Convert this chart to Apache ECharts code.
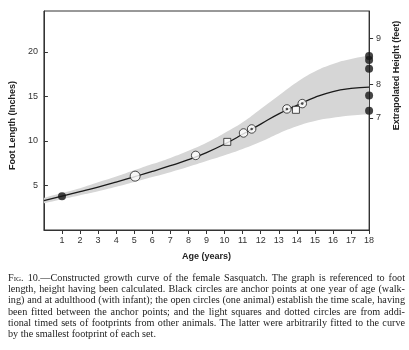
<!DOCTYPE html>
<html>
<head>
<meta charset="utf-8">
<script src="https://cdn.jsdelivr.net/npm/echarts@6/dist/echarts.min.js"></script>
<style>
  html, body { margin: 0; padding: 0; background: #fff; }
  #chart { position: absolute; left: 0; top: 0; width: 409px; height: 350px; }
  #caption { position: absolute; left: 8px; top: 272px; width: 397px;
    font-family: "Liberation Serif", "DejaVu Serif", serif; font-size: 10.2px;
    line-height: 11.2px; color: #222; }
  #caption div { text-align: justify; text-align-last: justify; white-space: nowrap; overflow: hidden; }
  #caption div.last { text-align-last: left; }
  .sc { font-variant: small-caps; }
</style>
</head>
<body>
<div id="chart"></div>
<div id="caption">
  <div><span class="sc">Fig</span>. 10.—Constructed growth curve of the female Sasquatch. The graph is referenced to foot</div>
  <div>length, height having been calculated. Black circles are anchor points at one year of age (walk-</div>
  <div>ing) and at adulthood (with infant); the open circles (one animal) establish the time scale, having</div>
  <div>been fitted between the anchor points; and the light squares and dotted circles are from addi-</div>
  <div>tional timed sets of footprints from other animals. The latter were arbitrarily fitted to the curve</div>
  <div class="last">by the smallest footprint of each set.</div>
</div>
<script>
// ---- data ----
var ages       = [0, 1, 2, 3, 4, 5, 6, 7, 8, 9, 10, 11, 12, 13, 14, 15, 16, 17, 18];
var curve      = [3.3, 3.8, 4.3, 4.82, 5.38, 5.97, 6.58, 7.22, 7.9, 8.7, 9.65, 10.75, 11.9, 13.05, 14.0, 14.9, 15.55, 15.9, 16.05];
var bandLower  = [3.0, 3.45, 3.9, 4.35, 4.85, 5.4, 5.95, 6.5, 7.1, 7.75, 8.4, 9.1, 9.9, 10.85, 11.65, 12.25, 12.6, 12.85, 13.0];
var bandUpper  = [3.6, 4.15, 4.7, 5.35, 6.0, 6.7, 7.4, 8.1, 8.9, 9.8, 10.9, 12.1, 13.6, 15.1, 16.6, 17.8, 18.65, 19.2, 19.6];

var anchorAges = [1, 18, 18, 18, 18, 18];
var anchorVals = [3.8, 19.55, 19.1, 18.1, 15.1, 13.4];
var openAges   = [5.05, 8.4, 11.05];
var openVals   = [6.05, 8.38, 10.9];
var squareAges = [10.15, 13.95];
var squareVals = [9.9, 13.5];
var dottedAges = [11.5, 13.45, 14.3];
var dottedVals = [11.35, 13.6, 14.2];

var ageTicks         = [1, 2, 3, 4, 5, 6, 7, 8, 9, 10, 11, 12, 13, 14, 15, 16, 17, 18];
var footTicks        = [5, 10, 15, 20];
var heightTickLabels = ['7', '8', '9'];
var heightTickAtFoot = [12.6, 16.35, 21.5];

var xName = 'Age (years)';
var yName = 'Foot Length (Inches)';
var y2Name = 'Extrapolated Height (feet)';

// ---- helpers ----
function pairs(xs, ys) { return xs.map(function (x, i) { return [x, ys[i]]; }); }
// value first, age second: lets the band stack along the value (y) dimension
function valAge(xs, ys) { return xs.map(function (x, i) { return [ys[i], x]; }); }

var FONT = '"Liberation Sans", Arial, sans-serif';
var AX = '#333';
var SMOOTH = 0.5;

var chart = echarts.init(document.getElementById('chart'), null, { renderer: 'canvas' });
chart.setOption({
  backgroundColor: '#fff',
  animation: false,
  grid: { left: 41, right: 38, top: 11, bottom: 120, show: true, borderColor: AX, borderWidth: 1, backgroundColor: 'transparent' },
  xAxis: {
    type: 'value', min: 0, max: 18,
    name: xName, nameLocation: 'middle', nameGap: 22,
    nameTextStyle: { fontFamily: FONT, fontWeight: 'bold', fontSize: 9, color: '#222' },
    axisLine: { show: true, lineStyle: { color: AX, width: 1 } },
    axisTick: { show: true, length: 4, customValues: ageTicks, lineStyle: { color: AX } },
    axisLabel: { customValues: ageTicks, margin: 6, fontFamily: FONT, fontSize: 9, color: '#333' },
    splitLine: { show: false }
  },
  yAxis: [{
    type: 'value', min: 0, max: 24.6, position: 'left',
    name: yName, nameLocation: 'middle', nameGap: 19,
    nameTextStyle: { fontFamily: FONT, fontWeight: 'bold', fontSize: 9, color: '#222', padding: [0, 10, 0, 0] },
    axisLine: { show: true, lineStyle: { color: AX, width: 1 } },
    axisTick: { show: true, inside: true, length: 4, customValues: footTicks, lineStyle: { color: AX } },
    axisLabel: { customValues: footTicks, margin: 6, fontFamily: FONT, fontSize: 9, color: '#333' },
    splitLine: { show: false }
  }, {
    type: 'value', min: 0, max: 24.6, position: 'right',
    name: y2Name, nameLocation: 'middle', nameGap: 17, nameRotate: 90,
    nameTextStyle: { fontFamily: FONT, fontWeight: 'bold', fontSize: 9, color: '#222', padding: [0, 0, 0, 90] },
    axisLine: { show: true, lineStyle: { color: AX, width: 1 } },
    axisTick: { show: true, length: 4, customValues: heightTickAtFoot, lineStyle: { color: AX } },
    axisLabel: {
      customValues: heightTickAtFoot, margin: 7, fontFamily: FONT, fontSize: 9, color: '#333',
      formatter: function (v) {
        var i = heightTickAtFoot.indexOf(v);
        return i >= 0 ? heightTickLabels[i] : '';
      }
    },
    splitLine: { show: false }
  }],
  series: [
    {
      type: 'line', name: 'bandLower', stack: 'band', data: valAge(ages, bandLower),
      encode: { x: 1, y: 0 },
      smooth: SMOOTH, symbol: 'none', silent: true,
      lineStyle: { opacity: 0 }, z: 1
    },
    {
      type: 'line', name: 'bandWidth', stack: 'band',
      data: valAge(ages, bandUpper.map(function (u, i) { return u - bandLower[i]; })),
      encode: { x: 1, y: 0 },
      smooth: SMOOTH, symbol: 'none', silent: true,
      lineStyle: { opacity: 0 }, areaStyle: { color: '#d6d6d6', opacity: 1 }, z: 1
    },
    {
      type: 'line', name: 'curve', data: pairs(ages, curve),
      smooth: SMOOTH, symbol: 'none',
      lineStyle: { color: '#1a1a1a', width: 1.3 }, z: 2
    },
    {
      type: 'scatter', name: 'squares', data: pairs(squareAges, squareVals), clip: false,
      symbol: 'rect', symbolSize: 7,
      itemStyle: { color: '#fff', borderColor: '#222', borderWidth: 1 }, z: 3
    },
    {
      type: 'scatter', name: 'open', data: pairs(openAges, openVals), clip: false,
      symbol: 'circle', symbolSize: function (v, p) { return p.dataIndex === 0 ? 10 : 8.5; },
      itemStyle: { color: '#fff', borderColor: '#222', borderWidth: 1 }, z: 3
    },
    {
      type: 'scatter', name: 'dotted', data: pairs(dottedAges, dottedVals), clip: false,
      symbol: 'circle', symbolSize: 8.5,
      itemStyle: { color: '#fff', borderColor: '#222', borderWidth: 1 }, z: 3
    },
    {
      type: 'scatter', name: 'dottedCentre', data: pairs(dottedAges, dottedVals), clip: false,
      symbol: 'circle', symbolSize: 2.6,
      itemStyle: { color: '#222' }, z: 4
    },
    {
      type: 'scatter', name: 'anchors', data: pairs(anchorAges, anchorVals), clip: false,
      symbol: 'circle', symbolSize: 8,
      itemStyle: { color: '#151515' }, z: 5
    }
  ]
});
</script>
</body>
</html>
